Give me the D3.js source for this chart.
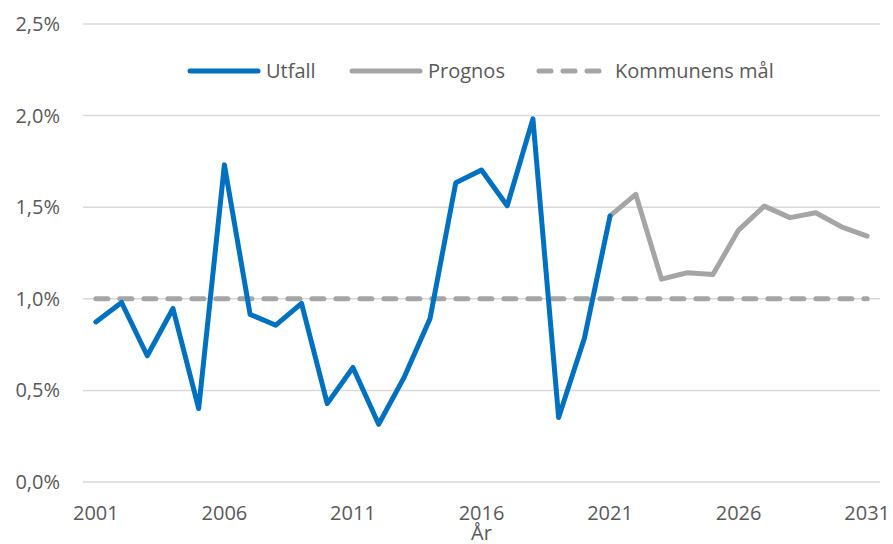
<!DOCTYPE html>
<html>
<head>
<meta charset="utf-8">
<script src="https://cdn.jsdelivr.net/npm/d3@7"></script>
<style>
  body { margin: 0; background: #fff; }
  text { font-family: "Open Sans", "Noto Sans", sans-serif; fill: #595959; }
</style>
</head>
<body>
<svg width="893" height="544"></svg>
<script>
const years = d3.range(2001, 2032);
const utfallYears = d3.range(2001, 2022);
const utfall = [0.874, 0.980, 0.689, 0.947, 0.401, 1.731, 0.915, 0.856, 0.975, 0.428,
  0.625, 0.315, 0.574, 0.893, 1.634, 1.703, 1.508, 1.982, 0.352, 0.783, 1.452];
const prognosYears = d3.range(2021, 2032);
const prognos = [1.453, 1.570, 1.107, 1.142, 1.133, 1.375, 1.506, 1.443, 1.470, 1.393, 1.342];
const mal = 1.0;
const yTicks = [0, 0.5, 1.0, 1.5, 2.0, 2.5];
const xTickYears = [2001, 2006, 2011, 2016, 2021, 2026, 2031];

const svg = d3.select("svg");
const margin = { top: 24, right: 13, bottom: 62, left: 83 };
const width = +svg.attr("width");
const height = +svg.attr("height");
const innerWidth = width - margin.left - margin.right;
const innerHeight = height - margin.top - margin.bottom;

const x = d3.scaleBand().domain(years).range([0, innerWidth]);
const xc = d => x(d) + x.bandwidth() / 2;
const y = d3.scaleLinear().domain([0, 2.5]).range([innerHeight, 0]);

const g = svg.append("g").attr("transform", `translate(${margin.left},${margin.top})`);

// gridlines
g.selectAll(".grid")
  .data(yTicks)
  .enter().append("line")
  .attr("x1", 0).attr("x2", innerWidth)
  .attr("y1", d => y(d)).attr("y2", d => y(d))
  .attr("stroke", "#d9d9d9")
  .attr("stroke-width", 1.5);

// y labels
const fmt = d => d3.format(".1f")(d).replace(".", ",") + "%";
g.selectAll(".ylab")
  .data(yTicks)
  .enter().append("text")
  .attr("x", -23)
  .attr("y", d => y(d))
  .attr("dy", "0.35em")
  .attr("text-anchor", "end")
  .attr("font-size", 20)
  .text(fmt);

// x labels
g.selectAll(".xlab")
  .data(xTickYears)
  .enter().append("text")
  .attr("x", d => xc(d))
  .attr("y", innerHeight + 31)
  .attr("dy", "0.35em")
  .attr("text-anchor", "middle")
  .attr("font-size", 20)
  .text(d => d);

g.append("text")
  .attr("x", innerWidth / 2)
  .attr("y", innerHeight + 51)
  .attr("dy", "0.35em")
  .attr("text-anchor", "middle")
  .attr("font-size", 20)
  .text("År");

const line = d3.line().x(d => xc(d[0])).y(d => y(d[1]));

// target
g.append("path")
  .datum(years.map(yr => [yr, mal]))
  .attr("d", line)
  .attr("fill", "none")
  .attr("stroke", "#a5a5a5")
  .attr("stroke-width", 5)
  .attr("stroke-linecap", "round")
  .attr("stroke-dasharray", "12,12");

g.append("path")
  .datum(prognosYears.map((yr, i) => [yr, prognos[i]]))
  .attr("d", line)
  .attr("fill", "none")
  .attr("stroke", "#a5a5a5")
  .attr("stroke-width", 5)
  .attr("stroke-linejoin", "round")
  .attr("stroke-linecap", "round");

g.append("path")
  .datum(utfallYears.map((yr, i) => [yr, utfall[i]]))
  .attr("d", line)
  .attr("fill", "none")
  .attr("stroke", "#0070c0")
  .attr("stroke-width", 5)
  .attr("stroke-linejoin", "round")
  .attr("stroke-linecap", "round");

// legend
const legendItems = [
  { label: "Utfall", color: "#0070c0", dash: null, x: 190 },
  { label: "Prognos", color: "#a5a5a5", dash: null, x: 352 },
  { label: "Kommunens mål", color: "#a5a5a5", dash: "12,12", x: 539 }
];
const legend = svg.append("g");
legendItems.forEach(it => {
  legend.append("line")
    .attr("x1", it.x).attr("x2", it.x + 68)
    .attr("y1", 71).attr("y2", 71)
    .attr("stroke", it.color)
    .attr("stroke-width", 5)
    .attr("stroke-linecap", "round")
    .attr("stroke-dasharray", it.dash);
  legend.append("text")
    .attr("x", it.x + 76)
    .attr("y", 71)
    .attr("dy", "0.35em")
    .attr("font-size", 20)
    .text(it.label);
});
</script>
</body>
</html>
